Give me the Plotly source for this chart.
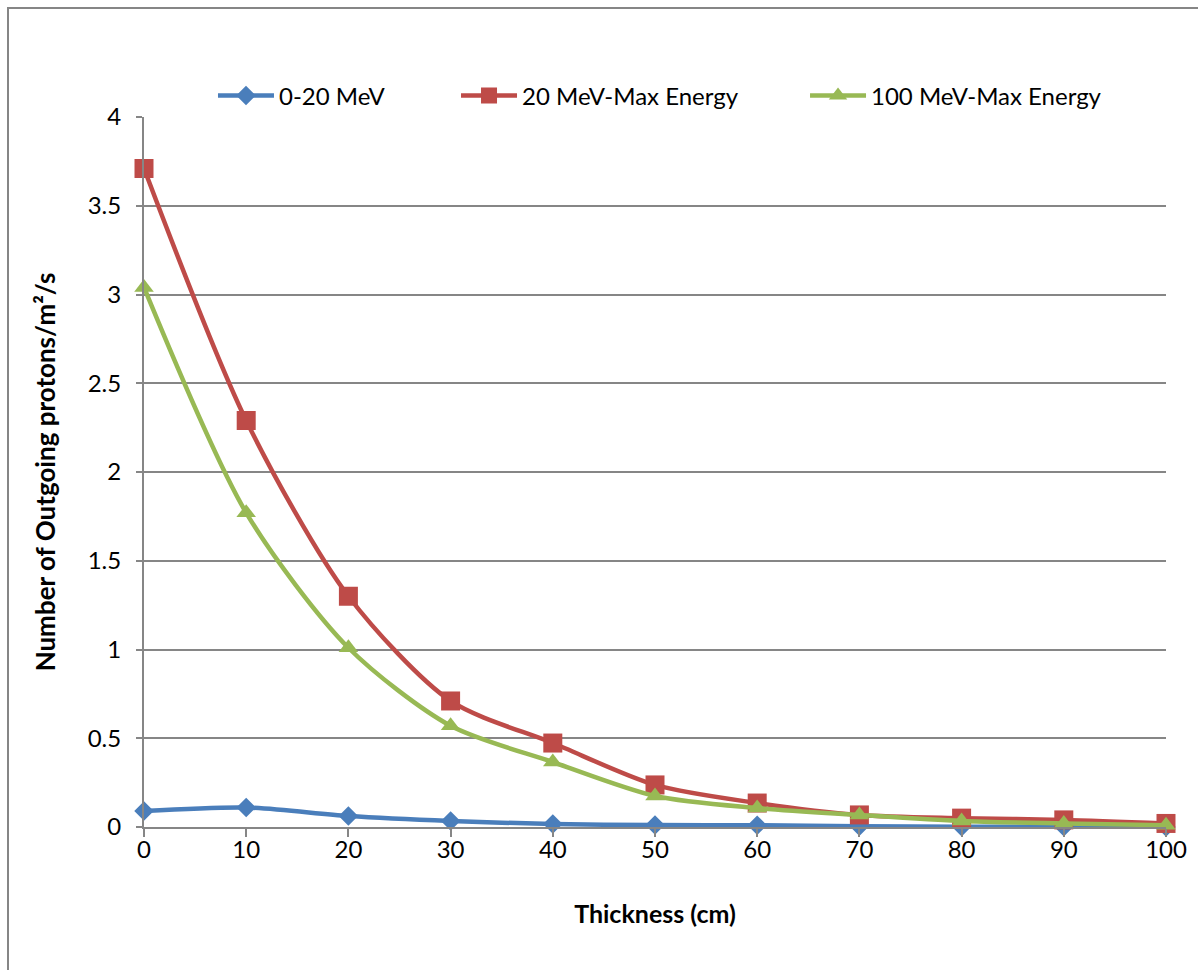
import plotly.graph_objects as go

# Shield thickness (cm)
thickness = [0, 10, 20, 30, 40, 50, 60, 70, 80, 90, 100]

# Outgoing proton flux (protons/m²/s) per energy band
flux_0_20 = [0.09, 0.11, 0.062, 0.034, 0.017, 0.011, 0.010, 0.004, 0.002, 0.001, 0.0]
flux_20_max = [3.71, 2.29, 1.30, 0.71, 0.473, 0.237, 0.135, 0.068, 0.05, 0.04, 0.02]
flux_100_max = [3.04, 1.77, 1.01, 0.57, 0.366, 0.175, 0.107, 0.068, 0.034, 0.02, 0.01]

y_ticks = [0, 0.5, 1, 1.5, 2, 2.5, 3, 3.5, 4]
y_tick_text = ["0", "0.5", "1", "1.5", "2", "2.5", "3", "3.5", "4"]

# name, values, colour, marker symbol, marker size, legend id, legend x (paper)
series = [
    ("0-20 MeV", flux_0_20, "#4A7EBB", "diamond", 15, "legend", 0.0675),
    ("20 MeV-Max Energy", flux_20_max, "#BE4B48", "square", 19, "legend2", 0.3053),
    ("100 MeV-Max Energy", flux_100_max, "#98B954", "triangle-up", 17, "legend3", 0.6468),
]

FONT = "Lato, Carlito, Calibri, sans-serif"
GRID = "#868686"

fig = go.Figure()
legend_layout = {}
for name, vals, color, symbol, size, leg, lx in series:
    fig.add_trace(go.Scatter(
        x=thickness, y=vals, name=name, mode="lines+markers",
        line=dict(color=color, width=4.5, shape="spline", smoothing=0.8),
        marker=dict(symbol=symbol, size=size, color=color),
        cliponaxis=False, legend=leg,
    ))
    legend_layout[leg] = dict(
        orientation="h", x=lx, xanchor="left", y=1.0296, yanchor="middle",
        font=dict(family=FONT, size=24, color="black"),
        itemwidth=56, bgcolor="rgba(0,0,0,0)",
    )

fig.update_layout(
    width=1198, height=970,
    margin=dict(l=144, r=32, t=117, b=143),
    paper_bgcolor="white", plot_bgcolor="white",
    font=dict(family=FONT, size=24, color="black"),
    showlegend=True,
    xaxis=dict(
        range=[0, 100], tickmode="array", tickvals=thickness,
        showgrid=False, showline=True, linecolor=GRID, linewidth=2,
        ticks="outside", ticklen=8, tickcolor=GRID, tickwidth=2,
        tickfont=dict(family=FONT, size=24),
        zeroline=False, ticklabelstandoff=-8,
        title=dict(text="<b>Thickness (cm)</b>", font=dict(family=FONT, size=25), standoff=44),
    ),
    yaxis=dict(
        range=[0, 4], tickmode="array", tickvals=y_ticks, ticktext=y_tick_text,
        showgrid=True, gridcolor=GRID, gridwidth=2,
        showline=True, linecolor=GRID, linewidth=2,
        ticks="outside", ticklen=6, tickcolor=GRID, tickwidth=2,
        tickfont=dict(family=FONT, size=24),
        zeroline=False, ticklabelstandoff=10,
        title=dict(text="<b>Number of Outgoing protons/m²/s</b>", font=dict(family=FONT, size=26), standoff=25),
    ),
    shapes=[dict(
        type="rect", xref="paper", yref="paper",
        x0=-136 / 1022, x1=1.2, y0=-0.3, y1=1 + 109 / 710,
        line=dict(color=GRID, width=2), fillcolor="rgba(0,0,0,0)", layer="below",
    )],
    **legend_layout,
)

fig.write_html("out.html")
